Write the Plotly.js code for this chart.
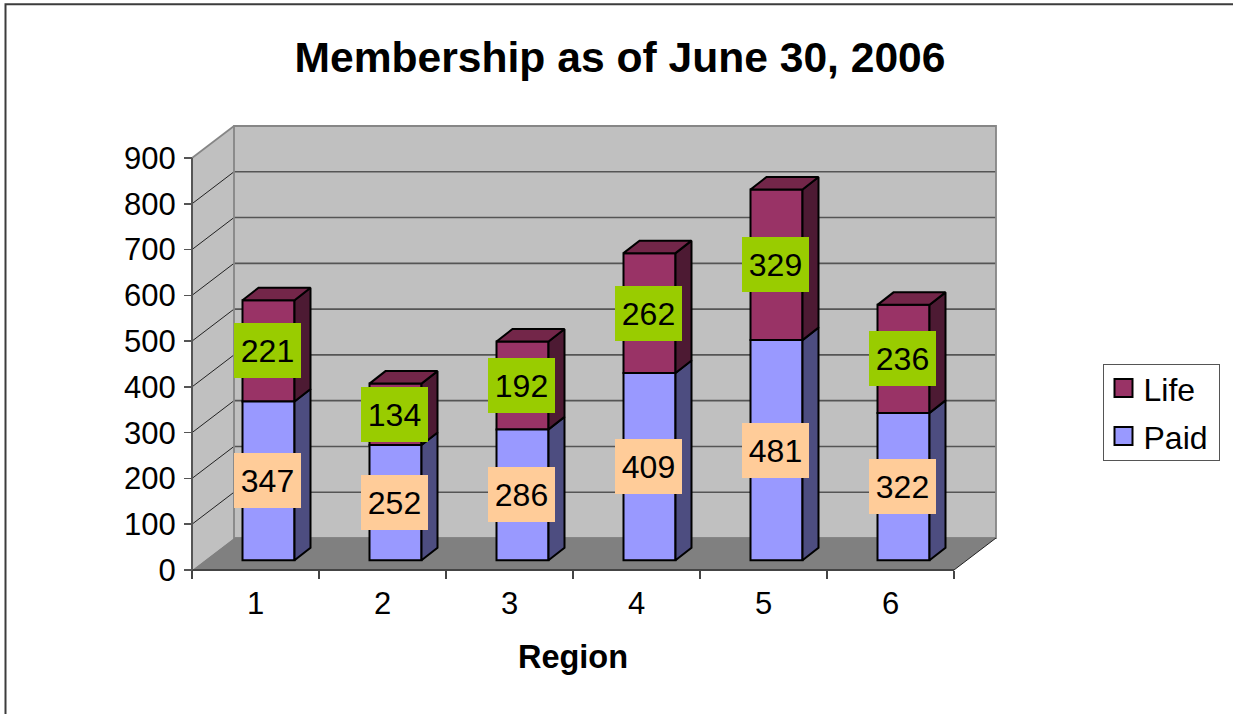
<!DOCTYPE html>
<html><head><meta charset="utf-8">
<script src="https://cdn.plot.ly/plotly-3.0.1.min.js"></script>
<style>html,body{margin:0;padding:0;background:#fff;overflow:hidden}#c{width:1233px;height:714px}</style>
</head><body><div id="c"></div>
<script>
var regions = [1, 2, 3, 4, 5, 6];
var paid = [347, 252, 286, 409, 481, 322];
var life = [221, 134, 192, 262, 329, 236];
var yTicks = [0, 100, 200, 300, 400, 500, 600, 700, 800, 900];

var pxCat = 127, pxVal = 412 / 900, depthX = 42, depthY = 32, pad = 4;
var L = 192 - depthX - pad, R = 1233 - (192 + 6 * pxCat + depthX + pad), T = 125.7 - pad, B = 714 - 569.7 - pad;
var W = 1233 - L - R, H = 714 - T - B;
function xp(px) { return (px - L) / W; }
function yp(py) { return 1 - (py - T) / H; }
var ddx = depthX / pxCat, ddy = depthY / pxVal;
var catEdges = regions.map(function (r) { return r - 1; }).concat([regions.length]);
var catCenters = regions.map(function (r) { return r - 0.5; });

var shift = 13 / pxCat, floorBase = 9.7 / pxVal, barW = 52 / pxCat;
var sideX = 16 / pxCat, sideY = 12.5 / pxVal;
var barX = catCenters.map(function (c) { return c + shift; });
var lifeBase = paid.map(function (p) { return p + floorBase; });

function poly(pts) { return { type: 'path', layer: 'below', xref: 'x', yref: 'y', path: 'M' + pts.map(function (p) { return p[0] + ',' + p[1]; }).join('L') + 'Z' }; }
var n = regions.length, yMax = yTicks[yTicks.length - 1];
var shapes = [];
function add(s, fill, lw, lc) { s.fillcolor = fill; s.line = { width: lw, color: lc }; shapes.push(s); }
add(poly([[ddx, ddy], [n + ddx, ddy], [n + ddx, yMax + ddy], [ddx, yMax + ddy]]), '#c0c0c0', 0, '#c0c0c0');
add(poly([[0, 0], [ddx, ddy], [ddx, yMax + ddy], [0, yMax]]), '#c0c0c0', 0, '#c0c0c0');
yTicks.slice(1, -1).forEach(function (v) {
  shapes.push({ type: 'line', layer: 'below', xref: 'x', yref: 'y', x0: ddx, x1: n + ddx, y0: v + ddy, y1: v + ddy, line: { color: '#555555', width: 1.6 } });
  shapes.push({ type: 'line', layer: 'below', xref: 'x', yref: 'y', x0: 0, x1: ddx, y0: v, y1: v + ddy, line: { color: '#222222', width: 1 } });
});
add(poly([[ddx, ddy], [n + ddx, ddy], [n + ddx, yMax + ddy], [ddx, yMax + ddy]]), 'rgba(0,0,0,0)', 1.8, '#868686');
shapes.push({ type: 'line', layer: 'below', xref: 'x', yref: 'y', x0: 0, x1: ddx, y0: yMax, y1: yMax + ddy, line: { color: '#868686', width: 1.6 } });
add(poly([[0, 0], [n, 0], [n + ddx, ddy], [ddx, ddy]]), '#808080', 0, '#808080');
shapes.push({ type: 'line', layer: 'below', xref: 'x', yref: 'y', x0: n, x1: n + ddx, y0: 0, y1: ddy, line: { color: '#222222', width: 1 } });
shapes.push({ type: 'line', layer: 'below', xref: 'x', yref: 'y', x0: 0, x1: n, y0: 0, y1: 0, line: { color: '#444444', width: 2 } });
shapes.push({ type: 'line', layer: 'below', xref: 'x', yref: 'y', x0: 0, x1: 0, y0: 0, y1: yMax, line: { color: '#555555', width: 2 } });
shapes.push({ type: 'path', xref: 'paper', yref: 'paper', path: 'M' + xp(5.5) + ',' + yp(714) + 'L' + xp(5.5) + ',' + yp(4) + 'L' + xp(1234) + ',' + yp(4), line: { color: '#3c3c3c', width: 2 } });

function sides(base, vals) {
  var xs = [], ys = [];
  barX.forEach(function (c, i) {
    var r = c + barW / 2, y0 = base[i], y1 = base[i] + vals[i];
    xs.push(r, r + sideX, r + sideX, r, r, null);
    ys.push(y0, y0 + sideY, y1 + sideY, y1, y0, null);
  });
  return { x: xs, y: ys };
}
function tops() {
  var xs = [], ys = [];
  barX.forEach(function (c, i) {
    var l = c - barW / 2, r = c + barW / 2, y = lifeBase[i] + life[i];
    xs.push(l, r, r + sideX, l + sideX, l, null);
    ys.push(y, y, y + sideY, y + sideY, y, null);
  });
  return { x: xs, y: ys };
}
function face(g, fill) {
  return { type: 'scatter', mode: 'lines', x: g.x, y: g.y, fill: 'toself', fillcolor: fill, line: { color: '#000', width: 2 }, showlegend: false, hoverinfo: 'skip' };
}
var floorBases = paid.map(function () { return floorBase; });
var traces = [
  { type: 'bar', name: 'Life', legendgroup: 'life', x: barX, y: life, base: lifeBase, width: barW, marker: { color: '#993366', line: { color: '#000', width: 2 } } },
  { type: 'bar', name: 'Paid', legendgroup: 'paid', x: barX, y: paid, base: floorBases, width: barW, marker: { color: '#9999ff', line: { color: '#000', width: 2 } } },
  face(sides(floorBases, paid), '#4d4d80'),
  face(sides(lifeBase, life), '#4d1a33'),
  face(tops(), '#732649')
];

function label(x, y, t, bg) {
  return { x: x - 1 / pxCat, y: y, xref: 'x', yref: 'y', text: String(t), showarrow: false, width: 67, height: 55, bgcolor: bg, borderpad: 0, borderwidth: 0, align: 'center', valign: 'middle', xanchor: 'center', yanchor: 'middle', font: { size: 32, color: '#000' } };
}
var annotations = [];
barX.forEach(function (x, i) {
  annotations.push(label(x, floorBase + paid[i] / 2, paid[i], '#ffcc99'));
  annotations.push(label(x, lifeBase[i] + life[i] / 2, life[i], '#99cc00'));
});

var layout = {
  width: 1233, height: 714, paper_bgcolor: '#fff', plot_bgcolor: 'rgba(0,0,0,0)', barmode: 'overlay', showlegend: true,
  font: { family: '"Liberation Sans", Arial, sans-serif', size: 31, color: '#000' },
  margin: { l: L, r: R, t: T, b: B, pad: 0, autoexpand: false },
  title: { text: '<b>Membership as of June 30, 2006</b>', font: { size: 42.6 }, x: 620 / 1233, xanchor: 'center', xref: 'container', y: 1 - 57 / 714, yanchor: 'middle', yref: 'container' },
  xaxis: {
    range: [-(depthX + pad) / pxCat, n + (depthX + pad) / pxCat], anchor: 'free', position: pad / H, showgrid: false, zeroline: false, showline: false,
    tickmode: 'array', tickvals: catCenters, ticktext: regions.map(String), ticks: '', ticklabelstandoff: 12, tickfont: { size: 31 },
    minor: { tickmode: 'array', tickvals: catEdges, ticks: 'outside', ticklen: 8, tickwidth: 1.5, tickcolor: '#444', showgrid: false },
    title: { text: '<b>Region</b>', font: { size: 32.5 }, standoff: 25 }
  },
  yaxis: {
    range: [-pad / pxVal, yMax + ddy + pad / pxVal], anchor: 'free', position: (depthX + pad) / W, showgrid: false, zeroline: false, showline: false,
    tickmode: 'array', tickvals: yTicks, ticks: 'outside', ticklen: 8, tickwidth: 1.5, tickcolor: '#555', tickfont: { size: 31 }, ticklabelstandoff: 2
  },
  legend: { x: xp(1102.5), y: yp(363.5), xanchor: 'left', yanchor: 'top', traceorder: 'grouped', tracegroupgap: 3.4, bgcolor: '#fff', bordercolor: '#555', borderwidth: 1, font: { size: 32 }, itemwidth: 30, entrywidth: 75, entrywidthmode: 'pixels' },
  shapes: shapes, annotations: annotations
};
function tuneLegend() {
  document.querySelectorAll('.legend .legendpoints path').forEach(function (p) { p.setAttribute('d', 'M9,9H-9V-9H9Z'); });
  var bg = document.querySelector('.legend rect.bg');
  if (bg) { bg.setAttribute('width', 116); bg.setAttribute('height', 96); }
  var box = document.querySelector('.legend .scrollbox');
  if (box) { box.setAttribute('transform', 'translate(0,-4)'); }
}
Plotly.newPlot('c', traces, layout, { displayModeBar: false, staticPlot: true }).then(function () {
  tuneLegend();
  setTimeout(tuneLegend, 50);
});
</script></body></html>
